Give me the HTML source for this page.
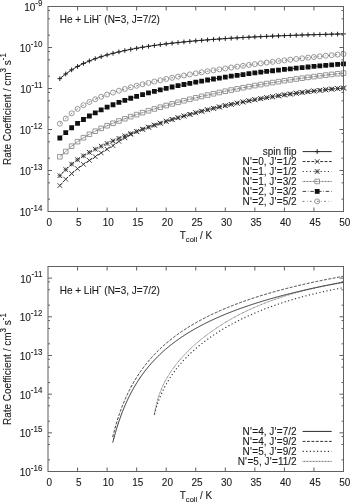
<!DOCTYPE html>
<html><head><meta charset="utf-8"><style>html,body{margin:0;padding:0;background:#fff}svg{display:block;filter:grayscale(1)}</style></head>
<body><svg width="350" height="502" viewBox="0 0 350 502">
<rect width="350" height="502" fill="#fff"/>
<g font-family="Liberation Sans, sans-serif" font-size="10" fill="#1a1a1a" stroke="#1a1a1a" stroke-width="0.1">
<text transform="translate(49.20,225.50) scale(1,1.02)" text-anchor="middle">0</text>
<text transform="translate(78.75,225.50) scale(1,1.02)" text-anchor="middle">5</text>
<text transform="translate(108.30,225.50) scale(1,1.02)" text-anchor="middle">10</text>
<text transform="translate(137.85,225.50) scale(1,1.02)" text-anchor="middle">15</text>
<text transform="translate(167.40,225.50) scale(1,1.02)" text-anchor="middle">20</text>
<text transform="translate(196.95,225.50) scale(1,1.02)" text-anchor="middle">25</text>
<text transform="translate(226.50,225.50) scale(1,1.02)" text-anchor="middle">30</text>
<text transform="translate(256.05,225.50) scale(1,1.02)" text-anchor="middle">35</text>
<text transform="translate(285.60,225.50) scale(1,1.02)" text-anchor="middle">40</text>
<text transform="translate(315.15,225.50) scale(1,1.02)" text-anchor="middle">45</text>
<text transform="translate(344.70,225.50) scale(1,1.02)" text-anchor="middle">50</text>
<path d="M77.55,211.5v-4M77.55,6.5v4M107.10,211.5v-4M107.10,6.5v4M136.65,211.5v-4M136.65,6.5v4M166.20,211.5v-4M166.20,6.5v4M195.75,211.5v-4M195.75,6.5v4M225.30,211.5v-4M225.30,6.5v4M254.85,211.5v-4M254.85,6.5v4M284.40,211.5v-4M284.40,6.5v4M313.95,211.5v-4M313.95,6.5v4" stroke="#606060" stroke-width="1" fill="none"/>
<text transform="translate(49.20,485.50) scale(1,1.02)" text-anchor="middle">0</text>
<text transform="translate(78.75,485.50) scale(1,1.02)" text-anchor="middle">5</text>
<text transform="translate(108.30,485.50) scale(1,1.02)" text-anchor="middle">10</text>
<text transform="translate(137.85,485.50) scale(1,1.02)" text-anchor="middle">15</text>
<text transform="translate(167.40,485.50) scale(1,1.02)" text-anchor="middle">20</text>
<text transform="translate(196.95,485.50) scale(1,1.02)" text-anchor="middle">25</text>
<text transform="translate(226.50,485.50) scale(1,1.02)" text-anchor="middle">30</text>
<text transform="translate(256.05,485.50) scale(1,1.02)" text-anchor="middle">35</text>
<text transform="translate(285.60,485.50) scale(1,1.02)" text-anchor="middle">40</text>
<text transform="translate(315.15,485.50) scale(1,1.02)" text-anchor="middle">45</text>
<text transform="translate(344.70,485.50) scale(1,1.02)" text-anchor="middle">50</text>
<path d="M77.55,471.5v-4M77.55,266.5v4M107.10,471.5v-4M107.10,266.5v4M136.65,471.5v-4M136.65,266.5v4M166.20,471.5v-4M166.20,266.5v4M195.75,471.5v-4M195.75,266.5v4M225.30,471.5v-4M225.30,266.5v4M254.85,471.5v-4M254.85,266.5v4M284.40,471.5v-4M284.40,266.5v4M313.95,471.5v-4M313.95,266.5v4" stroke="#606060" stroke-width="1" fill="none"/>
<text transform="translate(42.40,11.00) scale(1,1.02)" text-anchor="end">10<tspan font-size="8" dy="-5.20">-9</tspan></text>
<text transform="translate(42.40,52.00) scale(1,1.02)" text-anchor="end">10<tspan font-size="8" dy="-5.20">-10</tspan></text>
<text transform="translate(42.40,93.00) scale(1,1.02)" text-anchor="end">10<tspan font-size="8" dy="-5.20">-11</tspan></text>
<text transform="translate(42.40,134.00) scale(1,1.02)" text-anchor="end">10<tspan font-size="8" dy="-5.20">-12</tspan></text>
<text transform="translate(42.40,175.00) scale(1,1.02)" text-anchor="end">10<tspan font-size="8" dy="-5.20">-13</tspan></text>
<text transform="translate(42.40,216.00) scale(1,1.02)" text-anchor="end">10<tspan font-size="8" dy="-5.20">-14</tspan></text>
<text transform="translate(42.40,282.64) scale(1,1.02)" text-anchor="end">10<tspan font-size="8" dy="-5.20">-11</tspan></text>
<text transform="translate(42.40,321.31) scale(1,1.02)" text-anchor="end">10<tspan font-size="8" dy="-5.20">-12</tspan></text>
<text transform="translate(42.40,359.98) scale(1,1.02)" text-anchor="end">10<tspan font-size="8" dy="-5.20">-13</tspan></text>
<text transform="translate(42.40,398.66) scale(1,1.02)" text-anchor="end">10<tspan font-size="8" dy="-5.20">-14</tspan></text>
<text transform="translate(42.40,437.33) scale(1,1.02)" text-anchor="end">10<tspan font-size="8" dy="-5.20">-15</tspan></text>
<text transform="translate(42.40,476.00) scale(1,1.02)" text-anchor="end">10<tspan font-size="8" dy="-5.20">-16</tspan></text>
<path d="M48.0,6.50h4M343.5,6.50h-4M48.0,47.50h4M343.5,47.50h-4M48.0,88.50h4M343.5,88.50h-4M48.0,129.50h4M343.5,129.50h-4M48.0,170.50h4M343.5,170.50h-4M48.0,211.50h4M343.5,211.50h-4M48.0,278.14h4M343.5,278.14h-4M48.0,316.81h4M343.5,316.81h-4M48.0,355.48h4M343.5,355.48h-4M48.0,394.16h4M343.5,394.16h-4M48.0,432.83h4M343.5,432.83h-4M48.0,471.50h4M343.5,471.50h-4M48.0,199.16h2M343.5,199.16h-2M48.0,182.84h2M343.5,182.84h-2M48.0,174.47h2M343.5,174.47h-2M48.0,158.16h2M343.5,158.16h-2M48.0,141.84h2M343.5,141.84h-2M48.0,133.47h2M343.5,133.47h-2M48.0,117.16h2M343.5,117.16h-2M48.0,100.84h2M343.5,100.84h-2M48.0,92.47h2M343.5,92.47h-2M48.0,76.16h2M343.5,76.16h-2M48.0,59.84h2M343.5,59.84h-2M48.0,51.47h2M343.5,51.47h-2M48.0,35.16h2M343.5,35.16h-2M48.0,18.84h2M343.5,18.84h-2M48.0,10.47h2M343.5,10.47h-2M48.0,459.86h2M343.5,459.86h-2M48.0,444.47h2M343.5,444.47h-2M48.0,436.58h2M343.5,436.58h-2M48.0,421.19h2M343.5,421.19h-2M48.0,405.80h2M343.5,405.80h-2M48.0,397.90h2M343.5,397.90h-2M48.0,382.52h2M343.5,382.52h-2M48.0,367.13h2M343.5,367.13h-2M48.0,359.23h2M343.5,359.23h-2M48.0,343.84h2M343.5,343.84h-2M48.0,328.45h2M343.5,328.45h-2M48.0,320.56h2M343.5,320.56h-2M48.0,305.17h2M343.5,305.17h-2M48.0,289.78h2M343.5,289.78h-2M48.0,281.89h2M343.5,281.89h-2" stroke="#606060" stroke-width="1" fill="none"/>
<text transform="translate(196.00,238.90) scale(1,1.02)" text-anchor="middle">T<tspan font-size="7.6" dy="3.10">coll</tspan><tspan dy="-3.10"> / K</tspan></text>
<text transform="translate(11.00,109.10) rotate(-90) scale(1,1.02)" text-anchor="middle">Rate Coefficient / cm<tspan font-size="8" dy="-5.20">3</tspan><tspan dy="5.20"> s</tspan><tspan font-size="8" dy="-5.20">-1</tspan></text>
<text transform="translate(59.70,23.20) scale(1,1.02)">He + LiH<tspan font-size="8" dy="-5.00">-</tspan><tspan dy="5.00"> (N=3, J=7/2)</tspan></text>
<text transform="translate(196.00,498.90) scale(1,1.02)" text-anchor="middle">T<tspan font-size="7.6" dy="3.10">coll</tspan><tspan dy="-3.10"> / K</tspan></text>
<text transform="translate(11.00,369.10) rotate(-90) scale(1,1.02)" text-anchor="middle">Rate Coefficient / cm<tspan font-size="8" dy="-5.20">3</tspan><tspan dy="5.20"> s</tspan><tspan font-size="8" dy="-5.20">-1</tspan></text>
<text transform="translate(59.70,294.00) scale(1,1.02)">He + LiH<tspan font-size="8" dy="-5.00">-</tspan><tspan dy="5.00"> (N=3, J=7/2)</tspan></text>
<text transform="translate(296.60,154.90) scale(1,1.02)" text-anchor="end">spin flip</text>
<text transform="translate(296.60,164.85) scale(1,1.02)" text-anchor="end">N<tspan dx="0.20">'</tspan><tspan dx="0.50">=0, J</tspan><tspan dx="0.20">'</tspan><tspan dx="0.50">=1/2</tspan></text>
<text transform="translate(296.60,174.80) scale(1,1.02)" text-anchor="end">N<tspan dx="0.20">'</tspan><tspan dx="0.50">=1, J</tspan><tspan dx="0.20">'</tspan><tspan dx="0.50">=1/2</tspan></text>
<text transform="translate(296.60,184.75) scale(1,1.02)" text-anchor="end">N<tspan dx="0.20">'</tspan><tspan dx="0.50">=1, J</tspan><tspan dx="0.20">'</tspan><tspan dx="0.50">=3/2</tspan></text>
<text transform="translate(296.60,194.70) scale(1,1.02)" text-anchor="end">N<tspan dx="0.20">'</tspan><tspan dx="0.50">=2, J</tspan><tspan dx="0.20">'</tspan><tspan dx="0.50">=3/2</tspan></text>
<text transform="translate(296.60,204.65) scale(1,1.02)" text-anchor="end">N<tspan dx="0.20">'</tspan><tspan dx="0.50">=2, J</tspan><tspan dx="0.20">'</tspan><tspan dx="0.50">=5/2</tspan></text>
<text transform="translate(296.60,434.70) scale(1,1.02)" text-anchor="end">N<tspan dx="0.20">'</tspan><tspan dx="0.50">=4, J</tspan><tspan dx="0.20">'</tspan><tspan dx="0.50">=7/2</tspan></text>
<text transform="translate(296.60,444.70) scale(1,1.02)" text-anchor="end">N<tspan dx="0.20">'</tspan><tspan dx="0.50">=4, J</tspan><tspan dx="0.20">'</tspan><tspan dx="0.50">=9/2</tspan></text>
<text transform="translate(296.60,454.70) scale(1,1.02)" text-anchor="end">N<tspan dx="0.20">'</tspan><tspan dx="0.50">=5, J</tspan><tspan dx="0.20">'</tspan><tspan dx="0.50">=9/2</tspan></text>
<text transform="translate(296.60,464.70) scale(1,1.02)" text-anchor="end">N<tspan dx="0.20">'</tspan><tspan dx="0.50">=5, J</tspan><tspan dx="0.20">'</tspan><tspan dx="0.50">=11/2</tspan></text>
</g>
<path d="M59.82,123.66 65.73,118.58 71.64,113.32 77.55,108.87 83.46,105.15 89.37,101.98 95.28,99.22 101.19,96.78 107.10,94.57 113.01,92.55 118.92,90.69 124.83,88.94 130.74,87.31 136.65,85.76 142.56,84.28 148.47,82.87 154.38,81.52 160.29,80.23 166.20,78.98 172.11,77.77 178.02,76.61 183.93,75.48 189.84,74.38 195.75,73.32 201.66,72.29 207.57,71.28 213.48,70.31 219.39,69.36 225.30,68.43 231.21,67.53 237.12,66.65 243.03,65.80 248.94,64.96 254.85,64.15 260.76,63.35 266.67,62.58 272.58,61.82 278.49,61.08 284.40,60.36 290.31,59.66 296.22,58.97 302.13,58.30 308.04,57.65 313.95,57.01 319.86,56.39 325.77,55.78 331.68,55.18 337.59,54.60 343.50,54.04" fill="none" stroke="#666" stroke-width="0.9" stroke-dasharray="1.8 2.6 0.6 2.2"/>
<path d="M57.32,123.66a2.5,2.5 0 1,0 5.0,0a2.5,2.5 0 1,0 -5.0,0zM63.23,118.58a2.5,2.5 0 1,0 5.0,0a2.5,2.5 0 1,0 -5.0,0zM69.14,113.32a2.5,2.5 0 1,0 5.0,0a2.5,2.5 0 1,0 -5.0,0zM75.05,108.87a2.5,2.5 0 1,0 5.0,0a2.5,2.5 0 1,0 -5.0,0zM80.96,105.15a2.5,2.5 0 1,0 5.0,0a2.5,2.5 0 1,0 -5.0,0zM86.87,101.98a2.5,2.5 0 1,0 5.0,0a2.5,2.5 0 1,0 -5.0,0zM92.78,99.22a2.5,2.5 0 1,0 5.0,0a2.5,2.5 0 1,0 -5.0,0zM98.69,96.78a2.5,2.5 0 1,0 5.0,0a2.5,2.5 0 1,0 -5.0,0zM104.60,94.57a2.5,2.5 0 1,0 5.0,0a2.5,2.5 0 1,0 -5.0,0zM110.51,92.55a2.5,2.5 0 1,0 5.0,0a2.5,2.5 0 1,0 -5.0,0zM116.42,90.69a2.5,2.5 0 1,0 5.0,0a2.5,2.5 0 1,0 -5.0,0zM122.33,88.94a2.5,2.5 0 1,0 5.0,0a2.5,2.5 0 1,0 -5.0,0zM128.24,87.31a2.5,2.5 0 1,0 5.0,0a2.5,2.5 0 1,0 -5.0,0zM134.15,85.76a2.5,2.5 0 1,0 5.0,0a2.5,2.5 0 1,0 -5.0,0zM140.06,84.28a2.5,2.5 0 1,0 5.0,0a2.5,2.5 0 1,0 -5.0,0zM145.97,82.87a2.5,2.5 0 1,0 5.0,0a2.5,2.5 0 1,0 -5.0,0zM151.88,81.52a2.5,2.5 0 1,0 5.0,0a2.5,2.5 0 1,0 -5.0,0zM157.79,80.23a2.5,2.5 0 1,0 5.0,0a2.5,2.5 0 1,0 -5.0,0zM163.70,78.98a2.5,2.5 0 1,0 5.0,0a2.5,2.5 0 1,0 -5.0,0zM169.61,77.77a2.5,2.5 0 1,0 5.0,0a2.5,2.5 0 1,0 -5.0,0zM175.52,76.61a2.5,2.5 0 1,0 5.0,0a2.5,2.5 0 1,0 -5.0,0zM181.43,75.48a2.5,2.5 0 1,0 5.0,0a2.5,2.5 0 1,0 -5.0,0zM187.34,74.38a2.5,2.5 0 1,0 5.0,0a2.5,2.5 0 1,0 -5.0,0zM193.25,73.32a2.5,2.5 0 1,0 5.0,0a2.5,2.5 0 1,0 -5.0,0zM199.16,72.29a2.5,2.5 0 1,0 5.0,0a2.5,2.5 0 1,0 -5.0,0zM205.07,71.28a2.5,2.5 0 1,0 5.0,0a2.5,2.5 0 1,0 -5.0,0zM210.98,70.31a2.5,2.5 0 1,0 5.0,0a2.5,2.5 0 1,0 -5.0,0zM216.89,69.36a2.5,2.5 0 1,0 5.0,0a2.5,2.5 0 1,0 -5.0,0zM222.80,68.43a2.5,2.5 0 1,0 5.0,0a2.5,2.5 0 1,0 -5.0,0zM228.71,67.53a2.5,2.5 0 1,0 5.0,0a2.5,2.5 0 1,0 -5.0,0zM234.62,66.65a2.5,2.5 0 1,0 5.0,0a2.5,2.5 0 1,0 -5.0,0zM240.53,65.80a2.5,2.5 0 1,0 5.0,0a2.5,2.5 0 1,0 -5.0,0zM246.44,64.96a2.5,2.5 0 1,0 5.0,0a2.5,2.5 0 1,0 -5.0,0zM252.35,64.15a2.5,2.5 0 1,0 5.0,0a2.5,2.5 0 1,0 -5.0,0zM258.26,63.35a2.5,2.5 0 1,0 5.0,0a2.5,2.5 0 1,0 -5.0,0zM264.17,62.58a2.5,2.5 0 1,0 5.0,0a2.5,2.5 0 1,0 -5.0,0zM270.08,61.82a2.5,2.5 0 1,0 5.0,0a2.5,2.5 0 1,0 -5.0,0zM275.99,61.08a2.5,2.5 0 1,0 5.0,0a2.5,2.5 0 1,0 -5.0,0zM281.90,60.36a2.5,2.5 0 1,0 5.0,0a2.5,2.5 0 1,0 -5.0,0zM287.81,59.66a2.5,2.5 0 1,0 5.0,0a2.5,2.5 0 1,0 -5.0,0zM293.72,58.97a2.5,2.5 0 1,0 5.0,0a2.5,2.5 0 1,0 -5.0,0zM299.63,58.30a2.5,2.5 0 1,0 5.0,0a2.5,2.5 0 1,0 -5.0,0zM305.54,57.65a2.5,2.5 0 1,0 5.0,0a2.5,2.5 0 1,0 -5.0,0zM311.45,57.01a2.5,2.5 0 1,0 5.0,0a2.5,2.5 0 1,0 -5.0,0zM317.36,56.39a2.5,2.5 0 1,0 5.0,0a2.5,2.5 0 1,0 -5.0,0zM323.27,55.78a2.5,2.5 0 1,0 5.0,0a2.5,2.5 0 1,0 -5.0,0zM329.18,55.18a2.5,2.5 0 1,0 5.0,0a2.5,2.5 0 1,0 -5.0,0zM335.09,54.60a2.5,2.5 0 1,0 5.0,0a2.5,2.5 0 1,0 -5.0,0zM341.00,54.04a2.5,2.5 0 1,0 5.0,0a2.5,2.5 0 1,0 -5.0,0z" stroke="#858585" stroke-width="0.85" fill="none"/>
<path d="M59.82,138.00 65.73,132.64 71.64,127.76 77.55,123.41 83.46,119.51 89.37,116.00 95.28,112.81 101.19,109.89 107.10,107.21 113.01,104.73 118.92,102.42 124.83,100.28 130.74,98.26 136.65,96.37 142.56,94.60 148.47,92.92 154.38,91.33 160.29,89.82 166.20,88.39 172.11,87.02 178.02,85.72 183.93,84.48 189.84,83.29 195.75,82.16 201.66,81.07 207.57,80.02 213.48,79.02 219.39,78.05 225.30,77.12 231.21,76.22 237.12,75.36 243.03,74.53 248.94,73.72 254.85,72.95 260.76,72.20 266.67,71.47 272.58,70.77 278.49,70.09 284.40,69.43 290.31,68.79 296.22,68.17 302.13,67.57 308.04,66.98 313.95,66.41 319.86,65.86 325.77,65.33 331.68,64.81 337.59,64.30 343.50,63.81" fill="none" stroke="#444" stroke-width="1" stroke-dasharray="3.5 1.8 0.6 1.8"/>
<path d="M57.42,135.60h4.8v4.8h-4.8zM63.33,130.24h4.8v4.8h-4.8zM69.24,125.36h4.8v4.8h-4.8zM75.15,121.01h4.8v4.8h-4.8zM81.06,117.11h4.8v4.8h-4.8zM86.97,113.60h4.8v4.8h-4.8zM92.88,110.41h4.8v4.8h-4.8zM98.79,107.49h4.8v4.8h-4.8zM104.70,104.81h4.8v4.8h-4.8zM110.61,102.33h4.8v4.8h-4.8zM116.52,100.02h4.8v4.8h-4.8zM122.43,97.88h4.8v4.8h-4.8zM128.34,95.86h4.8v4.8h-4.8zM134.25,93.97h4.8v4.8h-4.8zM140.16,92.20h4.8v4.8h-4.8zM146.07,90.52h4.8v4.8h-4.8zM151.98,88.93h4.8v4.8h-4.8zM157.89,87.42h4.8v4.8h-4.8zM163.80,85.99h4.8v4.8h-4.8zM169.71,84.62h4.8v4.8h-4.8zM175.62,83.32h4.8v4.8h-4.8zM181.53,82.08h4.8v4.8h-4.8zM187.44,80.89h4.8v4.8h-4.8zM193.35,79.76h4.8v4.8h-4.8zM199.26,78.67h4.8v4.8h-4.8zM205.17,77.62h4.8v4.8h-4.8zM211.08,76.62h4.8v4.8h-4.8zM216.99,75.65h4.8v4.8h-4.8zM222.90,74.72h4.8v4.8h-4.8zM228.81,73.82h4.8v4.8h-4.8zM234.72,72.96h4.8v4.8h-4.8zM240.63,72.13h4.8v4.8h-4.8zM246.54,71.32h4.8v4.8h-4.8zM252.45,70.55h4.8v4.8h-4.8zM258.36,69.80h4.8v4.8h-4.8zM264.27,69.07h4.8v4.8h-4.8zM270.18,68.37h4.8v4.8h-4.8zM276.09,67.69h4.8v4.8h-4.8zM282.00,67.03h4.8v4.8h-4.8zM287.91,66.39h4.8v4.8h-4.8zM293.82,65.77h4.8v4.8h-4.8zM299.73,65.17h4.8v4.8h-4.8zM305.64,64.58h4.8v4.8h-4.8zM311.55,64.01h4.8v4.8h-4.8zM317.46,63.46h4.8v4.8h-4.8zM323.37,62.93h4.8v4.8h-4.8zM329.28,62.41h4.8v4.8h-4.8zM335.19,61.90h4.8v4.8h-4.8zM341.10,61.41h4.8v4.8h-4.8z" fill="#111" stroke="none"/>
<path d="M59.82,156.77 65.73,151.49 71.64,146.18 77.55,141.63 83.46,137.73 89.37,134.29 95.28,131.20 101.19,128.37 107.10,125.75 113.01,123.28 118.92,120.96 124.83,118.74 130.74,116.63 136.65,114.60 142.56,112.65 148.47,110.78 154.38,108.96 160.29,107.21 166.20,105.52 172.11,103.89 178.02,102.30 183.93,100.76 189.84,99.28 195.75,97.83 201.66,96.43 207.57,95.08 213.48,93.76 219.39,92.48 225.30,91.24 231.21,90.04 237.12,88.88 243.03,87.74 248.94,86.65 254.85,85.58 260.76,84.55 266.67,83.55 272.58,82.58 278.49,81.64 284.40,80.73 290.31,79.85 296.22,79.00 302.13,78.17 308.04,77.38 313.95,76.60 319.86,75.85 325.77,75.13 331.68,74.43 337.59,73.76 343.50,73.11" fill="none" stroke="#333" stroke-width="0.85" stroke-dasharray="0.8 0.7"/>
<path d="M57.52,154.47h4.6v4.6h-4.6zM63.43,149.19h4.6v4.6h-4.6zM69.34,143.88h4.6v4.6h-4.6zM75.25,139.33h4.6v4.6h-4.6zM81.16,135.43h4.6v4.6h-4.6zM87.07,131.99h4.6v4.6h-4.6zM92.98,128.90h4.6v4.6h-4.6zM98.89,126.07h4.6v4.6h-4.6zM104.80,123.45h4.6v4.6h-4.6zM110.71,120.98h4.6v4.6h-4.6zM116.62,118.66h4.6v4.6h-4.6zM122.53,116.44h4.6v4.6h-4.6zM128.44,114.33h4.6v4.6h-4.6zM134.35,112.30h4.6v4.6h-4.6zM140.26,110.35h4.6v4.6h-4.6zM146.17,108.48h4.6v4.6h-4.6zM152.08,106.66h4.6v4.6h-4.6zM157.99,104.91h4.6v4.6h-4.6zM163.90,103.22h4.6v4.6h-4.6zM169.81,101.59h4.6v4.6h-4.6zM175.72,100.00h4.6v4.6h-4.6zM181.63,98.46h4.6v4.6h-4.6zM187.54,96.98h4.6v4.6h-4.6zM193.45,95.53h4.6v4.6h-4.6zM199.36,94.13h4.6v4.6h-4.6zM205.27,92.78h4.6v4.6h-4.6zM211.18,91.46h4.6v4.6h-4.6zM217.09,90.18h4.6v4.6h-4.6zM223.00,88.94h4.6v4.6h-4.6zM228.91,87.74h4.6v4.6h-4.6zM234.82,86.58h4.6v4.6h-4.6zM240.73,85.44h4.6v4.6h-4.6zM246.64,84.35h4.6v4.6h-4.6zM252.55,83.28h4.6v4.6h-4.6zM258.46,82.25h4.6v4.6h-4.6zM264.37,81.25h4.6v4.6h-4.6zM270.28,80.28h4.6v4.6h-4.6zM276.19,79.34h4.6v4.6h-4.6zM282.10,78.43h4.6v4.6h-4.6zM288.01,77.55h4.6v4.6h-4.6zM293.92,76.70h4.6v4.6h-4.6zM299.83,75.87h4.6v4.6h-4.6zM305.74,75.08h4.6v4.6h-4.6zM311.65,74.30h4.6v4.6h-4.6zM317.56,73.55h4.6v4.6h-4.6zM323.47,72.83h4.6v4.6h-4.6zM329.38,72.13h4.6v4.6h-4.6zM335.29,71.46h4.6v4.6h-4.6zM341.20,70.81h4.6v4.6h-4.6z" stroke="#858585" stroke-width="0.85" fill="none"/>
<path d="M59.82,175.65 65.73,169.57 71.64,164.17 77.55,159.68 83.46,155.81 89.37,152.37 95.28,149.22 101.19,146.29 107.10,143.52 113.01,140.89 118.92,138.38 124.83,135.96 130.74,133.64 136.65,131.40 142.56,129.24 148.47,127.15 154.38,125.13 160.29,123.18 166.20,121.29 172.11,119.47 178.02,117.70 183.93,116.00 189.84,114.36 195.75,112.77 201.66,111.24 207.57,109.76 213.48,108.33 219.39,106.95 225.30,105.63 231.21,104.35 237.12,103.12 243.03,101.94 248.94,100.80 254.85,99.71 260.76,98.66 266.67,97.65 272.58,96.68 278.49,95.76 284.40,94.87 290.31,94.02 296.22,93.21 302.13,92.44 308.04,91.71 313.95,91.01 319.86,90.34 325.77,89.71 331.68,89.11 337.59,88.55 343.50,88.02" fill="none" stroke="#333" stroke-width="1.1" stroke-dasharray="1.2 2.4"/>
<path d="M57.47,175.65h4.70M59.82,173.30v4.70M63.38,169.57h4.70M65.73,167.22v4.70M69.29,164.17h4.70M71.64,161.82v4.70M75.20,159.68h4.70M77.55,157.33v4.70M81.11,155.81h4.70M83.46,153.46v4.70M87.02,152.37h4.70M89.37,150.02v4.70M92.93,149.22h4.70M95.28,146.87v4.70M98.84,146.29h4.70M101.19,143.94v4.70M104.75,143.52h4.70M107.10,141.17v4.70M110.66,140.89h4.70M113.01,138.54v4.70M116.57,138.38h4.70M118.92,136.03v4.70M122.48,135.96h4.70M124.83,133.61v4.70M128.39,133.64h4.70M130.74,131.29v4.70M134.30,131.40h4.70M136.65,129.05v4.70M140.21,129.24h4.70M142.56,126.89v4.70M146.12,127.15h4.70M148.47,124.80v4.70M152.03,125.13h4.70M154.38,122.78v4.70M157.94,123.18h4.70M160.29,120.83v4.70M163.85,121.29h4.70M166.20,118.94v4.70M169.76,119.47h4.70M172.11,117.12v4.70M175.67,117.70h4.70M178.02,115.35v4.70M181.58,116.00h4.70M183.93,113.65v4.70M187.49,114.36h4.70M189.84,112.01v4.70M193.40,112.77h4.70M195.75,110.42v4.70M199.31,111.24h4.70M201.66,108.89v4.70M205.22,109.76h4.70M207.57,107.41v4.70M211.13,108.33h4.70M213.48,105.98v4.70M217.04,106.95h4.70M219.39,104.60v4.70M222.95,105.63h4.70M225.30,103.28v4.70M228.86,104.35h4.70M231.21,102.00v4.70M234.77,103.12h4.70M237.12,100.77v4.70M240.68,101.94h4.70M243.03,99.59v4.70M246.59,100.80h4.70M248.94,98.45v4.70M252.50,99.71h4.70M254.85,97.36v4.70M258.41,98.66h4.70M260.76,96.31v4.70M264.32,97.65h4.70M266.67,95.30v4.70M270.23,96.68h4.70M272.58,94.33v4.70M276.14,95.76h4.70M278.49,93.41v4.70M282.05,94.87h4.70M284.40,92.52v4.70M287.96,94.02h4.70M290.31,91.67v4.70M293.87,93.21h4.70M296.22,90.86v4.70M299.78,92.44h4.70M302.13,90.09v4.70M305.69,91.71h4.70M308.04,89.36v4.70M311.60,91.01h4.70M313.95,88.66v4.70M317.51,90.34h4.70M319.86,87.99v4.70M323.42,89.71h4.70M325.77,87.36v4.70M329.33,89.11h4.70M331.68,86.76v4.70M335.24,88.55h4.70M337.59,86.20v4.70M341.15,88.02h4.70M343.50,85.67v4.70" stroke="#777" stroke-width="0.8" fill="none"/>
<path d="M57.47,173.30l4.70,4.70M57.47,178.00l4.70,-4.70M63.38,167.22l4.70,4.70M63.38,171.92l4.70,-4.70M69.29,161.82l4.70,4.70M69.29,166.52l4.70,-4.70M75.20,157.33l4.70,4.70M75.20,162.03l4.70,-4.70M81.11,153.46l4.70,4.70M81.11,158.16l4.70,-4.70M87.02,150.02l4.70,4.70M87.02,154.72l4.70,-4.70M92.93,146.87l4.70,4.70M92.93,151.57l4.70,-4.70M98.84,143.94l4.70,4.70M98.84,148.64l4.70,-4.70M104.75,141.17l4.70,4.70M104.75,145.87l4.70,-4.70M110.66,138.54l4.70,4.70M110.66,143.24l4.70,-4.70M116.57,136.03l4.70,4.70M116.57,140.73l4.70,-4.70M122.48,133.61l4.70,4.70M122.48,138.31l4.70,-4.70M128.39,131.29l4.70,4.70M128.39,135.99l4.70,-4.70M134.30,129.05l4.70,4.70M134.30,133.75l4.70,-4.70M140.21,126.89l4.70,4.70M140.21,131.59l4.70,-4.70M146.12,124.80l4.70,4.70M146.12,129.50l4.70,-4.70M152.03,122.78l4.70,4.70M152.03,127.48l4.70,-4.70M157.94,120.83l4.70,4.70M157.94,125.53l4.70,-4.70M163.85,118.94l4.70,4.70M163.85,123.64l4.70,-4.70M169.76,117.12l4.70,4.70M169.76,121.82l4.70,-4.70M175.67,115.35l4.70,4.70M175.67,120.05l4.70,-4.70M181.58,113.65l4.70,4.70M181.58,118.35l4.70,-4.70M187.49,112.01l4.70,4.70M187.49,116.71l4.70,-4.70M193.40,110.42l4.70,4.70M193.40,115.12l4.70,-4.70M199.31,108.89l4.70,4.70M199.31,113.59l4.70,-4.70M205.22,107.41l4.70,4.70M205.22,112.11l4.70,-4.70M211.13,105.98l4.70,4.70M211.13,110.68l4.70,-4.70M217.04,104.60l4.70,4.70M217.04,109.30l4.70,-4.70M222.95,103.28l4.70,4.70M222.95,107.98l4.70,-4.70M228.86,102.00l4.70,4.70M228.86,106.70l4.70,-4.70M234.77,100.77l4.70,4.70M234.77,105.47l4.70,-4.70M240.68,99.59l4.70,4.70M240.68,104.29l4.70,-4.70M246.59,98.45l4.70,4.70M246.59,103.15l4.70,-4.70M252.50,97.36l4.70,4.70M252.50,102.06l4.70,-4.70M258.41,96.31l4.70,4.70M258.41,101.01l4.70,-4.70M264.32,95.30l4.70,4.70M264.32,100.00l4.70,-4.70M270.23,94.33l4.70,4.70M270.23,99.03l4.70,-4.70M276.14,93.41l4.70,4.70M276.14,98.11l4.70,-4.70M282.05,92.52l4.70,4.70M282.05,97.22l4.70,-4.70M287.96,91.67l4.70,4.70M287.96,96.37l4.70,-4.70M293.87,90.86l4.70,4.70M293.87,95.56l4.70,-4.70M299.78,90.09l4.70,4.70M299.78,94.79l4.70,-4.70M305.69,89.36l4.70,4.70M305.69,94.06l4.70,-4.70M311.60,88.66l4.70,4.70M311.60,93.36l4.70,-4.70M317.51,87.99l4.70,4.70M317.51,92.69l4.70,-4.70M323.42,87.36l4.70,4.70M323.42,92.06l4.70,-4.70M329.33,86.76l4.70,4.70M329.33,91.46l4.70,-4.70M335.24,86.20l4.70,4.70M335.24,90.90l4.70,-4.70M341.15,85.67l4.70,4.70M341.15,90.37l4.70,-4.70" stroke="#222" stroke-width="0.9" fill="none"/>
<path d="M59.82,185.55 65.73,179.17 71.64,173.57 77.55,168.68 83.46,164.31 89.37,160.37 95.28,156.72 101.19,152.89 107.10,149.22 113.01,145.59 118.92,141.38 124.83,137.76 130.74,134.44 136.65,131.70 142.56,129.24 148.47,127.15 154.38,125.13 160.29,123.18 166.20,121.29 172.11,119.47 178.02,117.70 183.93,116.00 189.84,114.36 195.75,112.77 201.66,111.24 207.57,109.76 213.48,108.33 219.39,106.95 225.30,105.63 231.21,104.35 237.12,103.12 243.03,101.94 248.94,100.80 254.85,99.71 260.76,98.66 266.67,97.65 272.58,96.68 278.49,95.76 284.40,94.87 290.31,94.02 296.22,93.21 302.13,92.44 308.04,91.71 313.95,91.01 319.86,90.34 325.77,89.71 331.68,89.11 337.59,88.55 343.50,88.02" fill="none" stroke="#333" stroke-width="1" stroke-dasharray="2.9 1.5"/>
<path d="M57.47,183.20l4.70,4.70M57.47,187.90l4.70,-4.70M63.38,176.82l4.70,4.70M63.38,181.52l4.70,-4.70M69.29,171.22l4.70,4.70M69.29,175.92l4.70,-4.70M75.20,166.33l4.70,4.70M75.20,171.03l4.70,-4.70M81.11,161.96l4.70,4.70M81.11,166.66l4.70,-4.70M87.02,158.02l4.70,4.70M87.02,162.72l4.70,-4.70M92.93,154.37l4.70,4.70M92.93,159.07l4.70,-4.70M98.84,150.54l4.70,4.70M98.84,155.24l4.70,-4.70M104.75,146.87l4.70,4.70M104.75,151.57l4.70,-4.70M110.66,143.24l4.70,4.70M110.66,147.94l4.70,-4.70M116.57,139.03l4.70,4.70M116.57,143.73l4.70,-4.70M122.48,135.41l4.70,4.70M122.48,140.11l4.70,-4.70M128.39,132.09l4.70,4.70M128.39,136.79l4.70,-4.70M134.30,129.35l4.70,4.70M134.30,134.05l4.70,-4.70M140.21,126.89l4.70,4.70M140.21,131.59l4.70,-4.70M146.12,124.80l4.70,4.70M146.12,129.50l4.70,-4.70M152.03,122.78l4.70,4.70M152.03,127.48l4.70,-4.70M157.94,120.83l4.70,4.70M157.94,125.53l4.70,-4.70M163.85,118.94l4.70,4.70M163.85,123.64l4.70,-4.70M169.76,117.12l4.70,4.70M169.76,121.82l4.70,-4.70M175.67,115.35l4.70,4.70M175.67,120.05l4.70,-4.70M181.58,113.65l4.70,4.70M181.58,118.35l4.70,-4.70M187.49,112.01l4.70,4.70M187.49,116.71l4.70,-4.70M193.40,110.42l4.70,4.70M193.40,115.12l4.70,-4.70M199.31,108.89l4.70,4.70M199.31,113.59l4.70,-4.70M205.22,107.41l4.70,4.70M205.22,112.11l4.70,-4.70M211.13,105.98l4.70,4.70M211.13,110.68l4.70,-4.70M217.04,104.60l4.70,4.70M217.04,109.30l4.70,-4.70M222.95,103.28l4.70,4.70M222.95,107.98l4.70,-4.70M228.86,102.00l4.70,4.70M228.86,106.70l4.70,-4.70M234.77,100.77l4.70,4.70M234.77,105.47l4.70,-4.70M240.68,99.59l4.70,4.70M240.68,104.29l4.70,-4.70M246.59,98.45l4.70,4.70M246.59,103.15l4.70,-4.70M252.50,97.36l4.70,4.70M252.50,102.06l4.70,-4.70M258.41,96.31l4.70,4.70M258.41,101.01l4.70,-4.70M264.32,95.30l4.70,4.70M264.32,100.00l4.70,-4.70M270.23,94.33l4.70,4.70M270.23,99.03l4.70,-4.70M276.14,93.41l4.70,4.70M276.14,98.11l4.70,-4.70M282.05,92.52l4.70,4.70M282.05,97.22l4.70,-4.70M287.96,91.67l4.70,4.70M287.96,96.37l4.70,-4.70M293.87,90.86l4.70,4.70M293.87,95.56l4.70,-4.70M299.78,90.09l4.70,4.70M299.78,94.79l4.70,-4.70M305.69,89.36l4.70,4.70M305.69,94.06l4.70,-4.70M311.60,88.66l4.70,4.70M311.60,93.36l4.70,-4.70M317.51,87.99l4.70,4.70M317.51,92.69l4.70,-4.70M323.42,87.36l4.70,4.70M323.42,92.06l4.70,-4.70M329.33,86.76l4.70,4.70M329.33,91.46l4.70,-4.70M335.24,86.20l4.70,4.70M335.24,90.90l4.70,-4.70M341.15,85.67l4.70,4.70M341.15,90.37l4.70,-4.70" stroke="#333" stroke-width="0.9" fill="none"/>
<path d="M59.82,78.66 65.73,73.96 71.64,69.89 77.55,66.44 83.46,63.48 89.37,60.92 95.28,58.68 101.19,56.69 107.10,54.91 113.01,53.32 118.92,51.88 124.83,50.56 130.74,49.37 136.65,48.27 142.56,47.25 148.47,46.32 154.38,45.45 160.29,44.65 166.20,43.90 172.11,43.20 178.02,42.55 183.93,41.94 189.84,41.37 195.75,40.83 201.66,40.33 207.57,39.86 213.48,39.41 219.39,38.99 225.30,38.59 231.21,38.22 237.12,37.86 243.03,37.53 248.94,37.21 254.85,36.91 260.76,36.63 266.67,36.36 272.58,36.11 278.49,35.87 284.40,35.64 290.31,35.42 296.22,35.22 302.13,35.03 308.04,34.84 313.95,34.67 319.86,34.51 325.77,34.35 331.68,34.20 337.59,34.06 343.50,33.93" fill="none" stroke="#2a2a2a" stroke-width="1"/>
<path d="M57.47,78.66h4.70M59.82,76.31v4.70M63.38,73.96h4.70M65.73,71.61v4.70M69.29,69.89h4.70M71.64,67.54v4.70M75.20,66.44h4.70M77.55,64.09v4.70M81.11,63.48h4.70M83.46,61.13v4.70M87.02,60.92h4.70M89.37,58.57v4.70M92.93,58.68h4.70M95.28,56.33v4.70M98.84,56.69h4.70M101.19,54.34v4.70M104.75,54.91h4.70M107.10,52.56v4.70M110.66,53.32h4.70M113.01,50.97v4.70M116.57,51.88h4.70M118.92,49.53v4.70M122.48,50.56h4.70M124.83,48.21v4.70M128.39,49.37h4.70M130.74,47.02v4.70M134.30,48.27h4.70M136.65,45.92v4.70M140.21,47.25h4.70M142.56,44.90v4.70M146.12,46.32h4.70M148.47,43.97v4.70M152.03,45.45h4.70M154.38,43.10v4.70M157.94,44.65h4.70M160.29,42.30v4.70M163.85,43.90h4.70M166.20,41.55v4.70M169.76,43.20h4.70M172.11,40.85v4.70M175.67,42.55h4.70M178.02,40.20v4.70M181.58,41.94h4.70M183.93,39.59v4.70M187.49,41.37h4.70M189.84,39.02v4.70M193.40,40.83h4.70M195.75,38.48v4.70M199.31,40.33h4.70M201.66,37.98v4.70M205.22,39.86h4.70M207.57,37.51v4.70M211.13,39.41h4.70M213.48,37.06v4.70M217.04,38.99h4.70M219.39,36.64v4.70M222.95,38.59h4.70M225.30,36.24v4.70M228.86,38.22h4.70M231.21,35.87v4.70M234.77,37.86h4.70M237.12,35.51v4.70M240.68,37.53h4.70M243.03,35.18v4.70M246.59,37.21h4.70M248.94,34.86v4.70M252.50,36.91h4.70M254.85,34.56v4.70M258.41,36.63h4.70M260.76,34.28v4.70M264.32,36.36h4.70M266.67,34.01v4.70M270.23,36.11h4.70M272.58,33.76v4.70M276.14,35.87h4.70M278.49,33.52v4.70M282.05,35.64h4.70M284.40,33.29v4.70M287.96,35.42h4.70M290.31,33.07v4.70M293.87,35.22h4.70M296.22,32.87v4.70M299.78,35.03h4.70M302.13,32.68v4.70M305.69,34.84h4.70M308.04,32.49v4.70M311.60,34.67h4.70M313.95,32.32v4.70M317.51,34.51h4.70M319.86,32.16v4.70M323.42,34.35h4.70M325.77,32.00v4.70M329.33,34.20h4.70M331.68,31.85v4.70M335.24,34.06h4.70M337.59,31.71v4.70M341.15,33.93h4.70M343.50,31.58v4.70" stroke="#222" stroke-width="1" fill="none"/>
<path d="M302.6,151.60H331.7" fill="none" stroke="#2a2a2a" stroke-width="1"/>
<path d="M314.85,151.60h4.70M317.20,149.25v4.70" stroke="#222" stroke-width="1" fill="none"/>
<path d="M302.6,161.55H331.7" fill="none" stroke="#333" stroke-width="1" stroke-dasharray="2.9 1.5"/>
<path d="M314.85,159.20l4.70,4.70M314.85,163.90l4.70,-4.70" stroke="#333" stroke-width="0.9" fill="none"/>
<path d="M302.6,171.50H331.7" fill="none" stroke="#333" stroke-width="1.1" stroke-dasharray="1.2 2.4"/>
<path d="M314.85,171.50h4.70M317.20,169.15v4.70" stroke="#777" stroke-width="0.8" fill="none"/>
<path d="M314.85,169.15l4.70,4.70M314.85,173.85l4.70,-4.70" stroke="#222" stroke-width="0.9" fill="none"/>
<path d="M302.6,181.45H331.7" fill="none" stroke="#333" stroke-width="0.85" stroke-dasharray="0.8 0.7"/>
<path d="M314.90,179.15h4.6v4.6h-4.6z" stroke="#858585" stroke-width="0.85" fill="none"/>
<path d="M302.6,191.40H331.7" fill="none" stroke="#444" stroke-width="1" stroke-dasharray="3.5 1.8 0.6 1.8"/>
<path d="M314.80,189.00h4.8v4.8h-4.8z" fill="#111" stroke="none"/>
<path d="M302.6,201.35H331.7" fill="none" stroke="#666" stroke-width="0.9" stroke-dasharray="1.8 2.6 0.6 2.2"/>
<path d="M314.70,201.35a2.5,2.5 0 1,0 5.0,0a2.5,2.5 0 1,0 -5.0,0z" stroke="#858585" stroke-width="0.85" fill="none"/>
<path d="M112.77,442.54 113.07,441.37 113.36,440.23 113.66,439.10 113.96,437.98 114.25,436.89 114.55,435.81 114.84,434.74 115.14,433.69 115.43,432.66 115.73,431.64 116.02,430.63 116.32,429.64 116.62,428.67 116.91,427.70 117.21,426.75 117.50,425.81 117.80,424.89 118.09,423.97 118.39,423.07 118.68,422.18 118.98,421.30 119.27,420.44 119.57,419.58 119.87,418.73 120.16,417.90 120.46,417.07 120.75,416.26 121.05,415.45 121.34,414.65 121.64,413.87 121.93,413.09 122.23,412.32 122.53,411.56 122.82,410.81 123.12,410.07 123.41,409.34 123.71,408.61 124.00,407.89 124.30,407.18 124.59,406.48 124.89,405.79 125.18,405.10 125.48,404.42 125.78,403.75 126.07,403.08 126.37,402.43 126.66,401.77 126.96,401.13 127.25,400.49 127.55,399.86 127.84,399.23 128.14,398.62 128.44,398.00 128.73,397.40 129.03,396.79 129.32,396.20 129.62,395.61 129.91,395.03 130.21,394.45 130.50,393.87 131.09,392.74 131.68,391.64 132.27,390.55 132.86,389.48 133.45,388.43 134.04,387.40 134.63,386.39 135.22,385.39 135.81,384.41 136.40,383.45 136.99,382.50 137.58,381.57 138.17,380.65 138.76,379.75 139.35,378.86 139.94,377.99 140.53,377.12 141.12,376.28 141.71,375.44 142.30,374.61 142.89,373.80 143.48,373.00 144.07,372.21 144.66,371.43 145.25,370.67 145.84,369.91 146.43,369.16 147.03,368.43 147.62,367.70 148.21,366.98 148.80,366.28 149.39,365.58 149.98,364.89 150.57,364.21 151.16,363.53 151.75,362.87 152.34,362.21 152.93,361.57 153.52,360.93 154.11,360.29 154.70,359.67 155.29,359.05 155.88,358.44 156.47,357.84 157.06,357.24 157.65,356.65 158.24,356.07 158.83,355.49 159.42,354.92 160.01,354.36 160.60,353.80 161.19,353.25 161.78,352.70 162.37,352.16 162.96,351.62 163.55,351.09 164.14,350.57 164.73,350.05 165.32,349.54 165.91,349.03 166.50,348.53 167.09,348.03 167.68,347.54 168.27,347.05 168.86,346.56 169.45,346.08 170.04,345.61 170.63,345.14 171.22,344.67 171.81,344.21 172.40,343.75 172.99,343.30 173.58,342.85 174.17,342.41 174.76,341.97 175.35,341.53 175.94,341.10 176.53,340.67 177.12,340.24 177.71,339.82 178.30,339.40 178.89,338.99 179.48,338.57 180.07,338.17 180.66,337.76 181.25,337.36 181.84,336.96 182.43,336.57 183.02,336.18 183.61,335.79 184.20,335.40 184.79,335.02 185.38,334.64 185.97,334.27 186.56,333.89 187.15,333.52 187.74,333.16 188.33,332.79 188.92,332.43 189.51,332.07 190.10,331.71 190.69,331.36 191.28,331.01 191.87,330.66 192.46,330.31 193.05,329.97 193.64,329.63 194.23,329.29 194.82,328.96 195.41,328.62 196.00,328.29 196.59,327.96 197.18,327.63 197.77,327.31 198.36,326.99 198.95,326.67 199.54,326.35 200.13,326.03 200.72,325.72 201.31,325.41 201.90,325.10 202.49,324.79 203.08,324.49 203.67,324.19 204.26,323.88 204.85,323.58 205.44,323.29 206.03,322.99 206.62,322.70 207.21,322.41 207.80,322.12 208.39,321.83 208.98,321.54 209.57,321.26 210.16,320.98 210.75,320.70 211.34,320.42 211.93,320.14 212.52,319.86 213.11,319.59 213.70,319.32 214.29,319.05 214.88,318.78 215.47,318.51 216.06,318.24 216.65,317.98 217.24,317.72 217.83,317.46 218.42,317.20 219.01,316.94 219.60,316.68 220.19,316.43 220.78,316.17 221.37,315.92 221.96,315.67 222.55,315.42 223.14,315.17 223.73,314.92 224.32,314.68 224.91,314.43 225.50,314.19 226.09,313.95 226.68,313.71 227.27,313.47 227.86,313.23 228.45,313.00 229.04,312.76 229.63,312.53 230.22,312.30 230.81,312.07 231.40,311.84 231.99,311.61 232.58,311.38 233.17,311.15 233.76,310.93 234.35,310.70 234.94,310.48 235.53,310.26 236.12,310.04 236.71,309.82 237.30,309.60 237.89,309.38 238.48,309.17 239.07,308.95 239.66,308.74 240.25,308.52 240.84,308.31 241.43,308.10 242.02,307.89 242.61,307.68 243.20,307.47 243.79,307.27 244.38,307.06 244.97,306.86 245.56,306.65 246.15,306.45 246.74,306.25 247.33,306.05 247.92,305.85 248.51,305.65 249.10,305.45 249.69,305.25 250.28,305.05 250.87,304.86 251.46,304.66 252.05,304.47 252.64,304.28 253.23,304.09 253.82,303.90 254.41,303.71 255.00,303.52 255.59,303.33 256.18,303.14 256.77,302.95 257.36,302.77 257.95,302.58 258.54,302.40 259.13,302.21 259.72,302.03 260.31,301.85 260.90,301.67 261.49,301.49 262.08,301.31 262.67,301.13 263.26,300.95 263.85,300.77 264.44,300.60 265.03,300.42 265.62,300.25 266.21,300.07 266.80,299.90 267.39,299.73 267.98,299.55 268.57,299.38 269.16,299.21 269.75,299.04 270.34,298.87 270.93,298.70 271.52,298.54 272.11,298.37 272.70,298.20 273.29,298.04 273.88,297.87 274.47,297.71 275.06,297.54 275.65,297.38 276.24,297.22 276.83,297.06 277.42,296.89 278.01,296.73 278.60,296.57 279.19,296.41 279.78,296.26 280.37,296.10 280.96,295.94 281.55,295.78 282.14,295.63 282.73,295.47 283.32,295.32 283.91,295.16 284.50,295.01 285.09,294.85 285.68,294.70 286.27,294.55 286.86,294.40 287.45,294.25 288.04,294.10 288.63,293.95 289.22,293.80 289.81,293.65 290.40,293.50 290.99,293.35 291.58,293.21 292.17,293.06 292.76,292.91 293.35,292.77 293.94,292.62 294.53,292.48 295.12,292.34 295.71,292.19 296.30,292.05 296.89,291.91 297.48,291.77 298.07,291.62 298.66,291.48 299.25,291.34 299.84,291.20 300.43,291.06 301.02,290.92 301.61,290.79 302.20,290.65 302.79,290.51 303.38,290.37 303.97,290.24 304.56,290.10 305.15,289.97 305.74,289.83 306.33,289.70 306.92,289.56 307.51,289.43 308.10,289.30 308.69,289.16 309.28,289.03 309.87,288.90 310.46,288.77 311.05,288.64 311.64,288.51 312.23,288.38 312.82,288.25 313.41,288.12 314.00,287.99 314.59,287.86 315.18,287.73 315.77,287.61 316.36,287.48 316.95,287.35 317.54,287.23 318.13,287.10 318.72,286.98 319.31,286.85 319.90,286.73 320.49,286.60 321.08,286.48 321.67,286.36 322.26,286.23 322.85,286.11 323.44,285.99 324.03,285.87 324.62,285.75 325.21,285.63 325.80,285.51 326.39,285.39 326.98,285.27 327.57,285.15 328.16,285.03 328.75,284.91 329.34,284.79 329.93,284.67 330.52,284.55 331.11,284.44 331.70,284.32 332.29,284.20 332.88,284.09 333.47,283.97 334.06,283.86 334.65,283.74 335.24,283.63 335.83,283.51 336.42,283.40 337.01,283.29 337.60,283.17 338.19,283.06 338.78,282.95 339.37,282.84 339.96,282.72 340.55,282.61 341.14,282.50 341.73,282.39 342.32,282.28 342.91,282.17 343.50,282.06" fill="none" stroke="#2a2a2a" stroke-width="1"/>
<path d="M112.71,437.01 113.01,435.81 113.31,434.63 113.60,433.47 113.90,432.34 114.19,431.21 114.49,430.11 114.78,429.03 115.08,427.96 115.37,426.91 115.67,425.87 115.97,424.85 116.26,423.84 116.56,422.85 116.85,421.88 117.15,420.92 117.44,419.97 117.74,419.04 118.03,418.12 118.33,417.21 118.62,416.31 118.92,415.43 119.22,414.56 119.51,413.70 119.81,412.85 120.10,412.01 120.40,411.19 120.69,410.37 120.99,409.57 121.28,408.77 121.58,407.98 121.88,407.21 122.17,406.44 122.47,405.68 122.76,404.94 123.06,404.20 123.35,403.47 123.65,402.74 123.94,402.03 124.24,401.32 124.53,400.63 124.83,399.94 125.13,399.25 125.42,398.58 125.72,397.91 126.01,397.25 126.31,396.60 126.60,395.95 126.90,395.31 127.19,394.68 127.49,394.05 127.78,393.43 128.08,392.82 128.38,392.21 128.67,391.61 128.97,391.02 129.26,390.43 129.56,389.84 129.85,389.27 130.15,388.69 130.44,388.13 131.04,387.01 131.63,385.91 132.22,384.84 132.81,383.78 133.40,382.74 133.99,381.72 134.58,380.72 135.17,379.74 135.76,378.77 136.35,377.82 136.94,376.88 137.53,375.96 138.12,375.05 138.71,374.16 139.30,373.28 139.89,372.41 140.48,371.56 141.07,370.72 141.66,369.89 142.25,369.07 142.84,368.27 143.43,367.48 144.02,366.70 144.61,365.92 145.20,365.16 145.79,364.41 146.38,363.67 146.97,362.94 147.56,362.22 148.15,361.51 148.74,360.81 149.33,360.11 149.92,359.43 150.51,358.75 151.10,358.08 151.69,357.42 152.28,356.77 152.87,356.13 153.46,355.49 154.05,354.86 154.64,354.24 155.23,353.62 155.82,353.01 156.41,352.41 157.00,351.82 157.59,351.23 158.18,350.65 158.77,350.07 159.36,349.50 159.95,348.94 160.54,348.38 161.13,347.83 161.72,347.28 162.31,346.74 162.91,346.21 163.50,345.68 164.09,345.15 164.68,344.64 165.27,344.12 165.86,343.61 166.45,343.11 167.04,342.61 167.63,342.11 168.22,341.62 168.81,341.14 169.40,340.66 169.99,340.18 170.58,339.71 171.17,339.24 171.76,338.78 172.35,338.32 172.94,337.86 173.53,337.41 174.12,336.96 174.71,336.52 175.30,336.08 175.89,335.64 176.48,335.21 177.07,334.78 177.66,334.36 178.25,333.94 178.84,333.52 179.43,333.10 180.02,332.69 180.61,332.28 181.20,331.88 181.79,331.48 182.38,331.08 182.97,330.68 183.56,330.29 184.15,329.90 184.74,329.52 185.33,329.13 185.92,328.75 186.51,328.38 187.10,328.00 187.69,327.63 188.28,327.26 188.87,326.90 189.46,326.53 190.05,326.17 190.64,325.81 191.23,325.46 191.82,325.11 192.41,324.76 193.00,324.41 193.59,324.06 194.18,323.72 194.77,323.38 195.37,323.04 195.96,322.71 196.55,322.37 197.14,322.04 197.73,321.71 198.32,321.39 198.91,321.06 199.50,320.74 200.09,320.42 200.68,320.10 201.27,319.79 201.86,319.47 202.45,319.16 203.04,318.85 203.63,318.54 204.22,318.24 204.81,317.93 205.40,317.63 205.99,317.33 206.58,317.03 207.17,316.74 207.76,316.44 208.35,316.15 208.94,315.86 209.53,315.57 210.12,315.28 210.71,315.00 211.30,314.71 211.89,314.43 212.48,314.15 213.07,313.87 213.66,313.60 214.25,313.32 214.84,313.05 215.43,312.78 216.02,312.51 216.61,312.24 217.20,311.97 217.79,311.71 218.38,311.44 218.97,311.18 219.56,310.92 220.15,310.66 220.74,310.40 221.33,310.14 221.92,309.89 222.51,309.64 223.10,309.38 223.69,309.13 224.28,308.88 224.87,308.64 225.46,308.39 226.05,308.14 226.64,307.90 227.23,307.66 227.82,307.42 228.42,307.18 229.01,306.94 229.60,306.70 230.19,306.46 230.78,306.23 231.37,306.00 231.96,305.76 232.55,305.53 233.14,305.30 233.73,305.07 234.32,304.85 234.91,304.62 235.50,304.39 236.09,304.17 236.68,303.95 237.27,303.73 237.86,303.50 238.45,303.29 239.04,303.07 239.63,302.85 240.22,302.63 240.81,302.42 241.40,302.20 241.99,301.99 242.58,301.78 243.17,301.57 243.76,301.36 244.35,301.15 244.94,300.94 245.53,300.74 246.12,300.53 246.71,300.33 247.30,300.12 247.89,299.92 248.48,299.72 249.07,299.52 249.66,299.32 250.25,299.12 250.84,298.92 251.43,298.72 252.02,298.53 252.61,298.33 253.20,298.14 253.79,297.95 254.38,297.75 254.97,297.56 255.56,297.37 256.15,297.18 256.74,296.99 257.33,296.81 257.92,296.62 258.51,296.43 259.10,296.25 259.69,296.06 260.28,295.88 260.87,295.70 261.47,295.51 262.06,295.33 262.65,295.15 263.24,294.97 263.83,294.79 264.42,294.62 265.01,294.44 265.60,294.26 266.19,294.09 266.78,293.91 267.37,293.74 267.96,293.57 268.55,293.39 269.14,293.22 269.73,293.05 270.32,292.88 270.91,292.71 271.50,292.54 272.09,292.37 272.68,292.21 273.27,292.04 273.86,291.87 274.45,291.71 275.04,291.54 275.63,291.38 276.22,291.22 276.81,291.06 277.40,290.89 277.99,290.73 278.58,290.57 279.17,290.41 279.76,290.25 280.35,290.10 280.94,289.94 281.53,289.78 282.12,289.62 282.71,289.47 283.30,289.31 283.89,289.16 284.48,289.01 285.07,288.85 285.66,288.70 286.25,288.55 286.84,288.40 287.43,288.25 288.02,288.10 288.61,287.95 289.20,287.80 289.79,287.65 290.38,287.50 290.97,287.35 291.56,287.21 292.15,287.06 292.74,286.92 293.33,286.77 293.92,286.63 294.52,286.48 295.11,286.34 295.70,286.20 296.29,286.06 296.88,285.92 297.47,285.78 298.06,285.64 298.65,285.50 299.24,285.36 299.83,285.22 300.42,285.08 301.01,284.94 301.60,284.81 302.19,284.67 302.78,284.53 303.37,284.40 303.96,284.26 304.55,284.13 305.14,284.00 305.73,283.86 306.32,283.73 306.91,283.60 307.50,283.46 308.09,283.33 308.68,283.20 309.27,283.07 309.86,282.94 310.45,282.81 311.04,282.68 311.63,282.56 312.22,282.43 312.81,282.30 313.40,282.17 313.99,282.05 314.58,281.92 315.17,281.80 315.76,281.67 316.35,281.55 316.94,281.42 317.53,281.30 318.12,281.18 318.71,281.05 319.30,280.93 319.89,280.81 320.48,280.69 321.07,280.57 321.66,280.45 322.25,280.33 322.84,280.21 323.43,280.09 324.02,279.97 324.61,279.85 325.20,279.73 325.79,279.61 326.38,279.50 326.97,279.38 327.57,279.27 328.16,279.15 328.75,279.03 329.34,278.92 329.93,278.80 330.52,278.69 331.11,278.58 331.70,278.46 332.29,278.35 332.88,278.24 333.47,278.13 334.06,278.01 334.65,277.90 335.24,277.79 335.83,277.68 336.42,277.57 337.01,277.46 337.60,277.35 338.19,277.24 338.78,277.13 339.37,277.03 339.96,276.92 340.55,276.81 341.14,276.70 341.73,276.60 342.32,276.49 342.91,276.38 343.50,276.28" fill="none" stroke="#333" stroke-width="1" stroke-dasharray="2.9 1.5"/>
<path d="M154.38,414.33 154.68,413.21 154.97,412.13 155.27,411.07 155.56,410.05 155.86,409.05 156.15,408.07 156.45,407.12 156.74,406.19 157.04,405.28 157.34,404.39 157.63,403.53 157.93,402.68 158.22,401.85 158.52,401.03 158.81,400.24 159.11,399.46 159.40,398.69 159.70,397.94 159.99,397.20 160.29,396.47 160.59,395.76 160.88,395.06 161.18,394.38 161.47,393.70 161.77,393.04 162.06,392.38 162.36,391.74 162.65,391.11 162.95,390.48 163.25,389.87 163.54,389.26 163.84,388.67 164.13,388.08 164.43,387.50 164.72,386.93 165.02,386.36 165.31,385.81 165.61,385.26 165.90,384.71 166.20,384.18 166.50,383.65 166.79,383.13 167.09,382.61 167.38,382.10 167.68,381.60 167.97,381.10 168.27,380.60 168.56,380.12 168.86,379.64 169.16,379.16 169.45,378.69 169.75,378.22 170.04,377.76 170.34,377.30 170.63,376.85 170.93,376.40 171.22,375.96 171.52,375.52 171.81,375.08 172.11,374.65 172.70,373.80 173.29,372.97 173.88,372.15 174.47,371.35 175.06,370.56 175.65,369.78 176.23,369.02 176.82,368.27 177.41,367.52 178.00,366.79 178.59,366.08 179.18,365.37 179.77,364.67 180.36,363.98 180.95,363.30 181.54,362.63 182.12,361.97 182.71,361.31 183.30,360.67 183.89,360.03 184.48,359.40 185.07,358.78 185.66,358.17 186.25,357.56 186.84,356.96 187.43,356.37 188.01,355.78 188.60,355.21 189.19,354.63 189.78,354.06 190.37,353.50 190.96,352.95 191.55,352.40 192.14,351.86 192.73,351.32 193.31,350.78 193.90,350.26 194.49,349.73 195.08,349.22 195.67,348.70 196.26,348.20 196.85,347.69 197.44,347.20 198.03,346.70 198.62,346.21 199.20,345.73 199.79,345.25 200.38,344.77 200.97,344.30 201.56,343.83 202.15,343.37 202.74,342.91 203.33,342.45 203.92,342.00 204.50,341.55 205.09,341.11 205.68,340.67 206.27,340.23 206.86,339.80 207.45,339.37 208.04,338.94 208.63,338.52 209.22,338.10 209.81,337.68 210.39,337.27 210.98,336.85 211.57,336.45 212.16,336.04 212.75,335.64 213.34,335.24 213.93,334.85 214.52,334.46 215.11,334.07 215.70,333.68 216.28,333.30 216.87,332.92 217.46,332.54 218.05,332.16 218.64,331.79 219.23,331.42 219.82,331.05 220.41,330.69 221.00,330.32 221.58,329.96 222.17,329.61 222.76,329.25 223.35,328.90 223.94,328.55 224.53,328.20 225.12,327.86 225.71,327.51 226.30,327.17 226.89,326.83 227.47,326.50 228.06,326.16 228.65,325.83 229.24,325.50 229.83,325.18 230.42,324.85 231.01,324.53 231.60,324.21 232.19,323.89 232.78,323.57 233.36,323.26 233.95,322.94 234.54,322.63 235.13,322.32 235.72,322.02 236.31,321.71 236.90,321.41 237.49,321.11 238.08,320.81 238.66,320.51 239.25,320.22 239.84,319.92 240.43,319.63 241.02,319.34 241.61,319.05 242.20,318.77 242.79,318.48 243.38,318.20 243.97,317.92 244.55,317.64 245.14,317.36 245.73,317.08 246.32,316.81 246.91,316.54 247.50,316.27 248.09,316.00 248.68,315.73 249.27,315.46 249.86,315.20 250.44,314.94 251.03,314.67 251.62,314.41 252.21,314.16 252.80,313.90 253.39,313.64 253.98,313.39 254.57,313.14 255.16,312.89 255.74,312.64 256.33,312.39 256.92,312.14 257.51,311.90 258.10,311.65 258.69,311.41 259.28,311.17 259.87,310.93 260.46,310.69 261.05,310.46 261.63,310.22 262.22,309.99 262.81,309.76 263.40,309.52 263.99,309.29 264.58,309.07 265.17,308.84 265.76,308.61 266.35,308.39 266.93,308.16 267.52,307.94 268.11,307.72 268.70,307.50 269.29,307.28 269.88,307.07 270.47,306.85 271.06,306.64 271.65,306.42 272.24,306.21 272.82,306.00 273.41,305.79 274.00,305.58 274.59,305.37 275.18,305.17 275.77,304.96 276.36,304.76 276.95,304.56 277.54,304.35 278.13,304.15 278.71,303.95 279.30,303.76 279.89,303.56 280.48,303.36 281.07,303.17 281.66,302.97 282.25,302.78 282.84,302.59 283.43,302.40 284.01,302.21 284.60,302.02 285.19,301.83 285.78,301.65 286.37,301.46 286.96,301.28 287.55,301.09 288.14,300.91 288.73,300.73 289.32,300.55 289.90,300.37 290.49,300.19 291.08,300.01 291.67,299.84 292.26,299.66 292.85,299.49 293.44,299.31 294.03,299.14 294.62,298.97 295.21,298.80 295.79,298.63 296.38,298.46 296.97,298.29 297.56,298.13 298.15,297.96 298.74,297.80 299.33,297.63 299.92,297.47 300.51,297.31 301.09,297.14 301.68,296.98 302.27,296.82 302.86,296.67 303.45,296.51 304.04,296.35 304.63,296.20 305.22,296.04 305.81,295.89 306.40,295.73 306.98,295.58 307.57,295.43 308.16,295.28 308.75,295.13 309.34,294.98 309.93,294.83 310.52,294.68 311.11,294.54 311.70,294.39 312.29,294.24 312.87,294.10 313.46,293.96 314.05,293.81 314.64,293.67 315.23,293.53 315.82,293.39 316.41,293.25 317.00,293.11 317.59,292.98 318.17,292.84 318.76,292.70 319.35,292.57 319.94,292.43 320.53,292.30 321.12,292.16 321.71,292.03 322.30,291.90 322.89,291.77 323.48,291.64 324.06,291.51 324.65,291.38 325.24,291.25 325.83,291.12 326.42,291.00 327.01,290.87 327.60,290.75 328.19,290.62 328.78,290.50 329.36,290.37 329.95,290.25 330.54,290.13 331.13,290.01 331.72,289.89 332.31,289.77 332.90,289.65 333.49,289.53 334.08,289.42 334.67,289.30 335.25,289.18 335.84,289.07 336.43,288.95 337.02,288.84 337.61,288.72 338.20,288.61 338.79,288.50 339.38,288.39 339.97,288.28 340.56,288.17 341.14,288.06 341.73,287.95 342.32,287.84 342.91,287.73 343.50,287.62" fill="none" stroke="#333" stroke-width="1.1" stroke-dasharray="1.2 2.4"/>
<path d="M154.38,414.63 154.68,412.92 154.97,411.30 155.27,409.78 155.56,408.34 155.86,406.97 156.15,405.67 156.45,404.42 156.74,403.23 157.04,402.09 157.34,400.99 157.63,399.94 157.93,398.92 158.22,397.94 158.52,397.00 158.81,396.08 159.11,395.19 159.40,394.33 159.70,393.50 159.99,392.69 160.29,391.90 160.59,391.13 160.88,390.38 161.18,389.64 161.47,388.93 161.77,388.23 162.06,387.55 162.36,386.88 162.65,386.22 162.95,385.58 163.25,384.95 163.54,384.33 163.84,383.72 164.13,383.13 164.43,382.54 164.72,381.97 165.02,381.40 165.31,380.84 165.61,380.29 165.90,379.75 166.20,379.22 166.50,378.69 166.79,378.17 167.09,377.66 167.38,377.16 167.68,376.66 167.97,376.17 168.27,375.68 168.56,375.20 168.86,374.73 169.16,374.26 169.45,373.80 169.75,373.34 170.04,372.89 170.34,372.44 170.63,371.99 170.93,371.55 171.22,371.12 171.52,370.69 171.81,370.26 172.11,369.84 172.70,369.01 173.29,368.19 173.88,367.39 174.47,366.60 175.06,365.83 175.65,365.07 176.23,364.32 176.82,363.58 177.41,362.85 178.00,362.13 178.59,361.42 179.18,360.72 179.77,360.03 180.36,359.35 180.95,358.67 181.54,358.01 182.12,357.35 182.71,356.70 183.30,356.06 183.89,355.43 184.48,354.80 185.07,354.18 185.66,353.57 186.25,352.96 186.84,352.36 187.43,351.77 188.01,351.18 188.60,350.60 189.19,350.02 189.78,349.45 190.37,348.89 190.96,348.33 191.55,347.77 192.14,347.22 192.73,346.68 193.31,346.14 193.90,345.60 194.49,345.07 195.08,344.55 195.67,344.03 196.26,343.51 196.85,343.00 197.44,342.49 198.03,341.99 198.62,341.49 199.20,340.99 199.79,340.50 200.38,340.02 200.97,339.53 201.56,339.06 202.15,338.58 202.74,338.11 203.33,337.64 203.92,337.18 204.50,336.72 205.09,336.26 205.68,335.81 206.27,335.36 206.86,334.91 207.45,334.47 208.04,334.03 208.63,333.59 209.22,333.16 209.81,332.73 210.39,332.30 210.98,331.88 211.57,331.46 212.16,331.04 212.75,330.63 213.34,330.21 213.93,329.81 214.52,329.40 215.11,329.00 215.70,328.60 216.28,328.20 216.87,327.81 217.46,327.42 218.05,327.03 218.64,326.64 219.23,326.26 219.82,325.88 220.41,325.50 221.00,325.12 221.58,324.75 222.17,324.38 222.76,324.01 223.35,323.65 223.94,323.28 224.53,322.92 225.12,322.57 225.71,322.21 226.30,321.86 226.89,321.51 227.47,321.16 228.06,320.81 228.65,320.47 229.24,320.13 229.83,319.79 230.42,319.45 231.01,319.12 231.60,318.78 232.19,318.45 232.78,318.12 233.36,317.80 233.95,317.47 234.54,317.15 235.13,316.83 235.72,316.52 236.31,316.20 236.90,315.89 237.49,315.57 238.08,315.27 238.66,314.96 239.25,314.65 239.84,314.35 240.43,314.05 241.02,313.75 241.61,313.45 242.20,313.15 242.79,312.86 243.38,312.57 243.97,312.28 244.55,311.99 245.14,311.70 245.73,311.42 246.32,311.14 246.91,310.85 247.50,310.58 248.09,310.30 248.68,310.02 249.27,309.75 249.86,309.48 250.44,309.21 251.03,308.94 251.62,308.67 252.21,308.40 252.80,308.14 253.39,307.88 253.98,307.62 254.57,307.36 255.16,307.10 255.74,306.85 256.33,306.59 256.92,306.34 257.51,306.09 258.10,305.84 258.69,305.59 259.28,305.35 259.87,305.10 260.46,304.86 261.05,304.62 261.63,304.38 262.22,304.14 262.81,303.91 263.40,303.67 263.99,303.44 264.58,303.20 265.17,302.97 265.76,302.74 266.35,302.52 266.93,302.29 267.52,302.06 268.11,301.84 268.70,301.62 269.29,301.40 269.88,301.18 270.47,300.96 271.06,300.74 271.65,300.53 272.24,300.31 272.82,300.10 273.41,299.89 274.00,299.68 274.59,299.47 275.18,299.26 275.77,299.06 276.36,298.85 276.95,298.65 277.54,298.45 278.13,298.25 278.71,298.05 279.30,297.85 279.89,297.65 280.48,297.46 281.07,297.26 281.66,297.07 282.25,296.88 282.84,296.69 283.43,296.50 284.01,296.31 284.60,296.12 285.19,295.94 285.78,295.75 286.37,295.57 286.96,295.39 287.55,295.21 288.14,295.03 288.73,294.85 289.32,294.67 289.90,294.49 290.49,294.32 291.08,294.14 291.67,293.97 292.26,293.80 292.85,293.63 293.44,293.46 294.03,293.29 294.62,293.12 295.21,292.96 295.79,292.79 296.38,292.63 296.97,292.47 297.56,292.30 298.15,292.14 298.74,291.98 299.33,291.82 299.92,291.67 300.51,291.51 301.09,291.35 301.68,291.20 302.27,291.05 302.86,290.89 303.45,290.74 304.04,290.59 304.63,290.44 305.22,290.29 305.81,290.15 306.40,290.00 306.98,289.85 307.57,289.71 308.16,289.57 308.75,289.42 309.34,289.28 309.93,289.14 310.52,289.00 311.11,288.86 311.70,288.73 312.29,288.59 312.87,288.45 313.46,288.32 314.05,288.19 314.64,288.05 315.23,287.92 315.82,287.79 316.41,287.66 317.00,287.53 317.59,287.40 318.17,287.28 318.76,287.15 319.35,287.02 319.94,286.90 320.53,286.77 321.12,286.65 321.71,286.53 322.30,286.41 322.89,286.29 323.48,286.17 324.06,286.05 324.65,285.93 325.24,285.82 325.83,285.70 326.42,285.59 327.01,285.47 327.60,285.36 328.19,285.25 328.78,285.13 329.36,285.02 329.95,284.91 330.54,284.80 331.13,284.70 331.72,284.59 332.31,284.48 332.90,284.38 333.49,284.27 334.08,284.17 334.67,284.06 335.25,283.96 335.84,283.86 336.43,283.76 337.02,283.66 337.61,283.56 338.20,283.46 338.79,283.36 339.38,283.26 339.97,283.17 340.56,283.07 341.14,282.98 341.73,282.88 342.32,282.79 342.91,282.70 343.50,282.61" fill="none" stroke="#333" stroke-width="0.85" stroke-dasharray="0.8 0.7"/>
<path d="M302.6,431.40H331.7" fill="none" stroke="#2a2a2a" stroke-width="1"/>
<path d="M302.6,441.40H331.7" fill="none" stroke="#333" stroke-width="1" stroke-dasharray="2.9 1.5"/>
<path d="M302.6,451.40H331.7" fill="none" stroke="#333" stroke-width="1.1" stroke-dasharray="1.2 2.4"/>
<path d="M302.6,461.40H331.7" fill="none" stroke="#333" stroke-width="0.85" stroke-dasharray="0.8 0.7"/>
<g clip-path="none">
</g>
<rect x="48.0" y="6.5" width="295.50" height="205.00" fill="none" stroke="#606060" stroke-width="1"/>
<rect x="48.0" y="266.5" width="295.50" height="205.00" fill="none" stroke="#606060" stroke-width="1"/>
</svg></body></html>
